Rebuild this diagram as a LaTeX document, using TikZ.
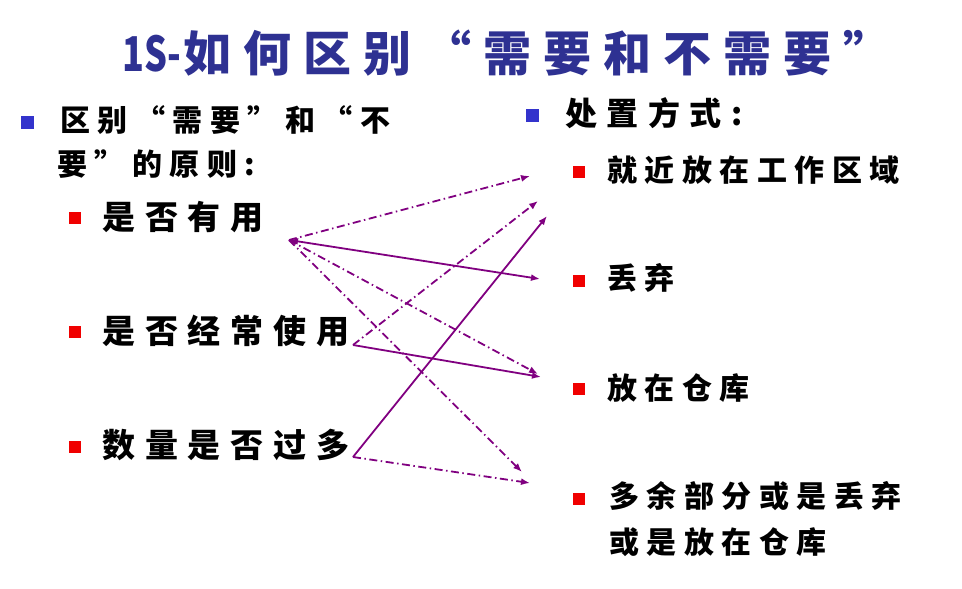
\documentclass[tikz,border=0pt]{standalone}
\usepackage{fontspec}
\usetikzlibrary{arrows.meta}
\newfontfamily\cjkplain{Noto Sans CJK SC}
\newfontfamily\cjktitle{Noto Sans CJK SC}[LetterSpace=25]
\newfontfamily\cjkhead{Noto Sans CJK SC}[LetterSpace=25]
\newfontfamily\cjkitem{Noto Sans CJK SC}[LetterSpace=30]
\definecolor{titleblue}{RGB}{46,49,146}
\definecolor{bulletblue}{RGB}{51,51,204}
\definecolor{bulletred}{RGB}{240,0,0}
\definecolor{arrowpurple}{RGB}{128,0,128}

\begin{document}
\begin{tikzpicture}[x=1pt,y=-1pt,
    bluesq/.style={fill=bulletblue,minimum size=13pt,inner sep=0pt},
    redsq/.style={fill=bulletred,minimum size=12pt,inner sep=0pt},
    txt/.style={anchor=base west,inner sep=0pt},
    link/.style={arrowpurple,line width=1.8pt,-{Latex[length=9pt,width=7pt]}},
    dashdot/.style={link,dash pattern=on 8pt off 3.5pt on 1.5pt off 3.5pt}]
    \useasboundingbox (0,0) rectangle (962,589);
    % title
    \node[txt,text=titleblue] (title) at (122,71) {\cjkplain\bfseries\fontsize{48}{58}\selectfont \scalebox{0.75}[1]{1S-}\hspace{2pt}\cjktitle 如何区别“需要和不需要”};
    % left column: principles
    \node[bluesq] (b0) at (27,122) {};
    \node[txt] (head1) at (60,131) {\cjkhead\bfseries\fontsize{30}{36}\selectfont 区别“需要”和“不};
    \node[txt] (head1b) at (57,175) {\cjkhead\bfseries\fontsize{30}{36}\selectfont 要”的原则:};
    \node[redsq] (b1) at (75,218) {};
    \node[txt] (use) at (102,229) {\cjkitem\bfseries\fontsize{33}{40}\selectfont 是否有用};
    \node[redsq] (b2) at (75,332) {};
    \node[txt] (often) at (102,343) {\cjkitem\bfseries\fontsize{33}{40}\selectfont 是否经常使用};
    \node[redsq] (b3) at (75,447) {};
    \node[txt] (many) at (102,457) {\cjkitem\bfseries\fontsize{33}{40}\selectfont 数量是否过多};
    % right column: handling
    \node[bluesq] (b4) at (532,115) {};
    \node[txt] (head2) at (565,125) {\cjkitem\bfseries\fontsize{32}{38}\selectfont 处置方式:};
    \node[redsq] (b5) at (579,172) {};
    \node[txt] (near) at (607,181) {\cjkhead\bfseries\fontsize{30}{36}\selectfont 就近放在工作区域};
    \node[redsq] (b6) at (579,281) {};
    \node[txt] (drop) at (607,289) {\cjkhead\bfseries\fontsize{30}{36}\selectfont 丢弃};
    \node[redsq] (b7) at (579,389) {};
    \node[txt] (store) at (607,399) {\cjkhead\bfseries\fontsize{30}{36}\selectfont 放在仓库};
    \node[redsq] (b8) at (579,499) {};
    \node[txt] (rest) at (609,507) {\cjkhead\bfseries\fontsize{30}{36}\selectfont 多余部分或是丢弃};
    \node[txt] (restb) at (609,553) {\cjkhead\bfseries\fontsize{30}{36}\selectfont 或是放在仓库};
    % arrow ends
    \coordinate (useR) at (289,240);
    \coordinate (oftenR) at (353,345);
    \coordinate (manyR) at (353,457);
    \coordinate (nearA) at (530,176);
    \coordinate (nearB) at (538,201);
    \coordinate (nearC) at (547,216);
    \coordinate (dropL) at (540,279);
    \coordinate (storeA) at (538,374);
    \coordinate (storeB) at (541,377);
    \coordinate (restA) at (522,472);
    \coordinate (restB) at (530,483);
    % links
    \draw [dashdot] (useR) to (nearA);
    \draw [link,{Latex[length=9pt,width=7pt]}-{Latex[length=9pt,width=7pt]}] (dropL) to (useR);
    \draw [dashdot] (useR) to (storeA);
    \draw [dashdot] (useR) to (restA);
    \draw [dashdot] (oftenR) to (nearB);
    \draw [link] (oftenR) to (storeB);
    \draw [link] (manyR) to (nearC);
    \draw [dashdot] (manyR) to (restB);
\end{tikzpicture}
\end{document}
